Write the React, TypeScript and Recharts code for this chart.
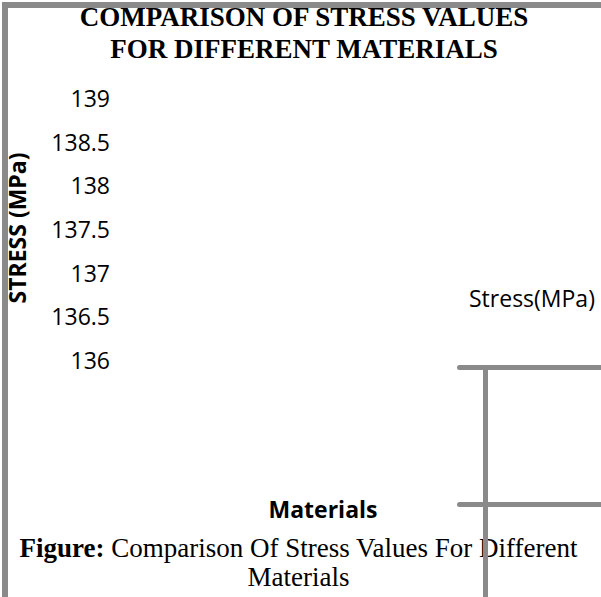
import { BarChart, Bar, XAxis, YAxis, Legend } from "recharts";

// the source figure shows no material names and no bars, only the empty frame
const materials: string[] = [""];
const stressValues: (number | null)[] = [null];
const yTicks = [136, 136.5, 137, 137.5, 138, 138.5, 139];

const titleLines = ["COMPARISON OF STRESS VALUES", "FOR DIFFERENT MATERIALS"];

const data = materials.map((m, i) => ({ material: m, stress: stressValues[i] }));

const GRAY = "#8a8a8a";
const SANS = "'Open Sans', sans-serif";
const SERIF = "'Liberation Serif', 'Times New Roman', serif";

function YLabel() {
  return (
    <text
      x={17}
      y={228}
      transform="rotate(-90, 17, 228)"
      textAnchor="middle"
      dominantBaseline="central"
      fontFamily={SANS}
      fontWeight={700}
      fontSize={23}
      fill="#000"
    >
      STRESS (MPa)
    </text>
  );
}

function XLabel(props: any) {
  const vb = props.viewBox || { x: 0, y: 0, width: 0, height: 0 };
  return (
    <text
      x={vb.x + vb.width / 2}
      y={509}
      textAnchor="middle"
      dominantBaseline="central"
      fontFamily={SANS}
      fontWeight={700}
      fontSize={23}
      fill="#000"
    >
      Materials
    </text>
  );
}

function LegendText() {
  return (
    <div style={{ fontFamily: SANS, fontSize: 23, lineHeight: "30px", color: "#000", whiteSpace: "nowrap" }}>
      Stress(MPa)
    </div>
  );
}

export default function App() {
  return (
    <div style={{ position: "absolute", left: 0, top: 0, width: 601, height: 597, background: "#fff", overflow: "hidden" }}>
      <BarChart
        width={601}
        height={597}
        data={data}
        margin={{ top: 99, right: 75, bottom: 176, left: 0 }}
      >
        <XAxis
          dataKey="material"
          height={30}
          axisLine={false}
          tickLine={false}
          tick={false}
          label={<XLabel />}
        />
        <YAxis
          width={120}
          domain={[136, 139]}
          ticks={yTicks}
          allowDataOverflow
          axisLine={false}
          tickLine={false}
          tickSize={0}
          tickMargin={10}
          tick={{ fontFamily: SANS, fontSize: 23, fill: "#000" }}
          label={<YLabel />}
        />
        <Legend
          content={<LegendText />}
          wrapperStyle={{ position: "absolute", left: 469, top: 283, width: 132, height: 30 }}
        />
        <Bar dataKey="stress" name="Stress(MPa)" fill="#4472c4" isAnimationActive={false} />
      </BarChart>

      <div style={{ position: "absolute", left: 0, top: 1, width: 608, textAlign: "center", fontFamily: SERIF, fontWeight: 700, fontSize: 27, lineHeight: "32px", color: "#000" }}>
        {titleLines.map((l) => (
          <div key={l}>{l}</div>
        ))}
      </div>

      <div style={{ position: "absolute", left: 0, top: 534, width: 597, textAlign: "center", fontFamily: SERIF, fontSize: 27, lineHeight: "29px", color: "#000" }}>
        <div>
          <b>Figure:</b> Comparison Of Stress Values For Different
        </div>
        <div>Materials</div>
      </div>

      {/* page/table borders around the figure */}
      <div style={{ position: "absolute", left: 2, top: 2, width: 599, height: 6, background: GRAY }} />
      <div style={{ position: "absolute", left: 2, top: 2, width: 6, height: 595, background: GRAY }} />
      <div style={{ position: "absolute", left: 457, top: 365, width: 150, height: 5, background: GRAY, borderRadius: 3 }} />
      <div style={{ position: "absolute", left: 457, top: 502, width: 150, height: 5, background: GRAY, borderRadius: 3 }} />
      <div style={{ position: "absolute", left: 483, top: 365, width: 5, height: 240, background: GRAY }} />
    </div>
  );
}
